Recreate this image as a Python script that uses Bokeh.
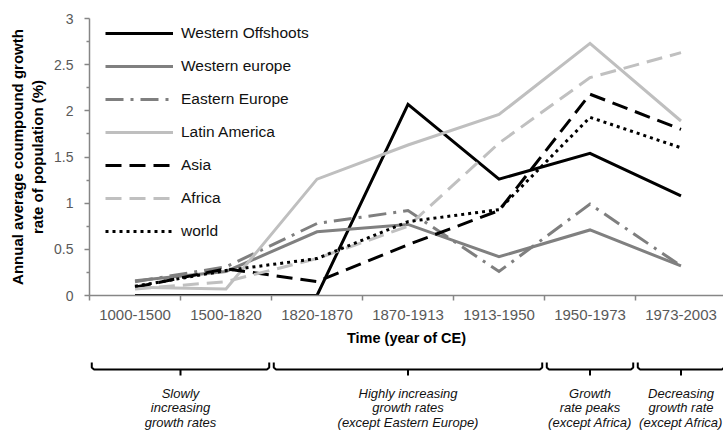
from bokeh.plotting import figure
from bokeh.models import Range1d, FixedTicker, Legend, LegendItem, NumeralTickFormatter
from bokeh.layouts import column
from bokeh.embed import file_html
from bokeh.resources import INLINE
from bokeh.core.properties import value

# ---------------- data ----------------
periods = ["1000-1500", "1500-1820", "1820-1870", "1870-1913",
           "1913-1950", "1950-1973", "1973-2003"]

western_offshoots = [0.00, 0.00, 0.00, 2.07, 1.26, 1.54, 1.08]
western_europe    = [0.16, 0.26, 0.69, 0.77, 0.42, 0.71, 0.32]
eastern_europe    = [0.15, 0.31, 0.78, 0.92, 0.26, 0.99, 0.32]
latin_america     = [0.09, 0.07, 1.26, 1.63, 1.96, 2.73, 1.89]
asia              = [0.09, 0.29, 0.15, 0.55, 0.92, 2.18, 1.80]
africa            = [0.07, 0.15, 0.40, 0.75, 1.65, 2.36, 2.63]
world             = [0.10, 0.27, 0.40, 0.80, 0.93, 1.93, 1.60]

series_names = ["Western Offshoots", "Western europe", "Eastern Europe",
                "Latin America", "Asia", "Africa", "world"]
series_values = [western_offshoots, western_europe, eastern_europe,
                 latin_america, asia, africa, world]

y_ticks = [0, 0.5, 1, 1.5, 2, 2.5, 3]

group_labels = ["Slowly\nincreasing\ngrowth rates",
                "Highly increasing\ngrowth rates\n(except Eastern Europe)",
                "Growth\nrate peaks\n(except Africa)",
                "Decreasing\ngrowth rate\n(except Africa)"]
group_first = [0, 2, 5, 6]
group_last = [1, 4, 5, 6]

# ---------------- styles ----------------
styles = [
    dict(line_color="#000000", line_dash="solid"),
    dict(line_color="#808080", line_dash="solid"),
    dict(line_color="#7f7f7f", line_dash="18 7 3 7"),
    dict(line_color="#bfbfbf", line_dash="solid"),
    dict(line_color="#000000", line_dash="16 8"),
    dict(line_color="#c0c0c0", line_dash="16 8"),
    dict(line_color="#000000", line_dash="3 4"),
]

FONT = "'Liberation Sans', Arial, sans-serif"
W = 723
LEFT = 89          # frame left inside figure
TOP = 18
FRAME_H = 277
CAT = 91.0         # px per category
H1 = 353
H2 = 432 - H1

x_end = (W - LEFT) / CAT
x_centers = [i + 0.5 for i in range(len(periods))]

xr = Range1d(0, x_end)
p = figure(width=W, height=H1, x_range=xr, y_range=Range1d(0, 3),
           output_backend="svg", toolbar_location=None,
           min_border_left=LEFT, min_border_right=0, min_border_top=TOP,
           min_border_bottom=H1 - TOP - FRAME_H)
p.xgrid.visible = False
p.ygrid.visible = False
p.outline_line_color = None
p.background_fill_color = "white"

renderers = []
for name, vals, st in zip(series_names, series_values, styles):
    r = p.line(x_centers, vals, line_width=3, line_join="miter", **st)
    renderers.append(r)

legend = Legend(items=[LegendItem(label=n, renderers=[r]) for n, r in zip(series_names, renderers)],
                location=(16, 54))
legend.padding = 0
legend.margin = 0
legend.spacing = 13
legend.glyph_width = 68
legend.glyph_height = 20
legend.label_height = 20
legend.label_standoff = 8
legend.label_text_font = FONT
legend.label_text_font_size = "15.5px"
legend.label_text_color = "#111111"
legend.background_fill_alpha = 0
legend.border_line_color = None
p.add_layout(legend)

axis_color = "#868686"
tick_label_color = "#595959"

# y axis
ya = p.yaxis[0]
ya.ticker = FixedTicker(ticks=y_ticks,
                        minor_ticks=[(a + b) / 2 for a, b in zip(y_ticks[:-1], y_ticks[1:])])
ya.formatter = NumeralTickFormatter(format="0.[0]")
ya.axis_line_color = axis_color
ya.axis_line_width = 1.5
ya.major_tick_line_color = axis_color
ya.major_tick_line_width = 1.5
ya.major_tick_out = 5
ya.major_tick_in = 0
ya.minor_tick_line_color = axis_color
ya.minor_tick_line_width = 1.5
ya.minor_tick_out = 3
ya.minor_tick_in = 0
ya.major_label_text_font = FONT
ya.major_label_text_font_size = "14px"
ya.major_label_text_color = tick_label_color
ya.major_label_standoff = 11
ya.axis_label = "Annual average coumpound growth\nrate of population (%)"
ya.axis_label_text_font = FONT
ya.axis_label_text_font_style = "bold"
ya.axis_label_text_font_size = "15px"
ya.axis_label_text_color = "#000000"
ya.axis_label_standoff = 5

# x axis
xa = p.xaxis[0]
xa.ticker = FixedTicker(ticks=x_centers, minor_ticks=list(range(len(periods) + 1)))
xa.major_label_overrides = {c: lab for c, lab in zip(x_centers, periods)}
xa.axis_line_color = axis_color
xa.axis_line_width = 1.5
xa.major_tick_out = 0
xa.major_tick_in = 0
xa.minor_tick_line_color = axis_color
xa.minor_tick_line_width = 1.5
xa.minor_tick_out = 5
xa.minor_tick_in = 0
xa.major_label_text_font = FONT
xa.major_label_text_font_size = "15px"
xa.major_label_text_color = tick_label_color
xa.major_label_standoff = 9
xa.axis_label = "Time (year of CE)"
xa.axis_label_text_font = FONT
xa.axis_label_text_font_style = "bold"
xa.axis_label_text_font_size = "14.5px"
xa.axis_label_text_color = "#000000"
xa.axis_label_standoff = 7

# ---------------- bracket annotations ----------------
p2 = figure(width=W, height=H2, x_range=xr, y_range=Range1d(H2, 0),
            output_backend="svg", toolbar_location=None,
            x_axis_location=None, y_axis_location=None,
            min_border_left=LEFT, min_border_right=0, min_border_top=0, min_border_bottom=0)
p2.xgrid.visible = False
p2.ygrid.visible = False
p2.outline_line_color = None

top_y, bar_y, tick_y = 9, 16, 22
gap = 0.025
xs, ys, cxs = [], [], []
for f, l in zip(group_first, group_last):
    x0 = f + gap
    x1 = l + 1 - gap
    xm = (f + l + 1) / 2
    xs.append([x0, x0, x0 + 0.025, x1 - 0.025, x1, x1])
    ys.append([top_y, bar_y - 2, bar_y, bar_y, bar_y - 2, top_y])
    xs.append([xm, xm])
    ys.append([bar_y, tick_y])
    cxs.append(xm)
p2.multi_line(xs, ys, line_color="black", line_width=2)
p2.text(x=cxs, y=[32] * len(cxs), text=group_labels, text_align="center",
        text_baseline="top", text_font=value(FONT), text_font_style="italic",
        text_font_size="13px", text_line_height=0.98, text_color="#111111")

layout = column(p, p2, spacing=0)

open("out.html", "w").write(file_html(layout, INLINE))
